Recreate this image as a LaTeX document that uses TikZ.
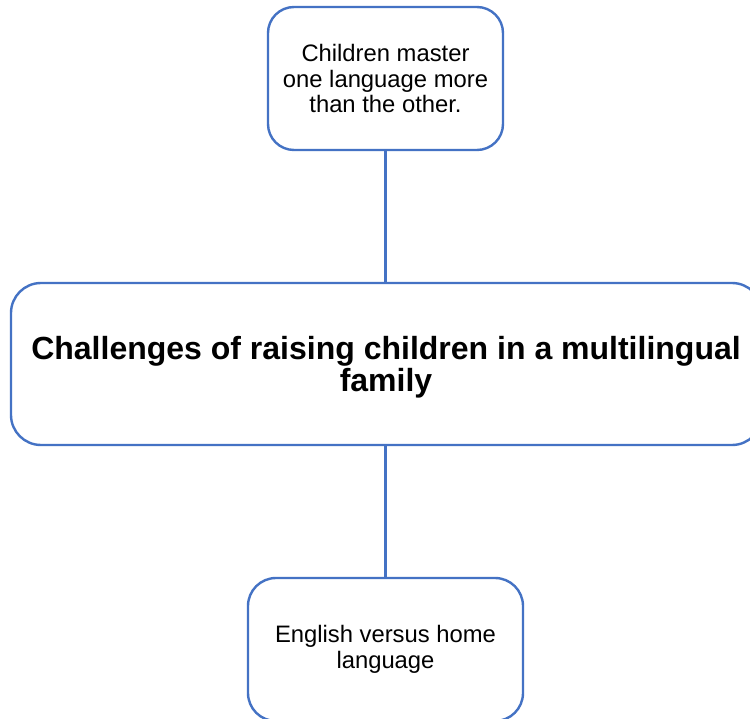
\documentclass[tikz,border=0pt]{standalone}
\usepackage{fontspec}
\setmainfont{Liberation Sans}
\definecolor{boxblue}{HTML}{4472C4}
\begin{document}
\begin{tikzpicture}[x=1pt,y=-1pt,
  box/.style={draw=boxblue, line width=2.4pt, fill=white, rounded corners=26pt,
    align=center, inner sep=0pt},
  small/.style={font=\fontsize{23.8}{25.5}\selectfont},
  big/.style={font=\bfseries\fontsize{32}{32}\selectfont},
  link/.style={draw=boxblue, line width=2.4pt}]
  \useasboundingbox (0,0) rectangle (750,719);
  \clip (0,0) rectangle (750,719);
  \fill[white] (0,0) rectangle (750,719);

  % three boxes, stacked along one vertical axis
  \node[box, small, minimum width=235pt, minimum height=143pt] (top)
    at (385.5,78.5) {Children master\\one language more\\than the other.};
  \node[box, rounded corners=30pt, minimum width=751pt, minimum height=162pt] (main)
    at (386.5,364) {};
  \node[big, align=center, inner sep=0pt] (title)
    at (386,367.5) {Challenges of raising children in a multilingual\\family};
  \node[box, small, rounded corners=28pt, minimum width=275pt, minimum height=143pt] (bottom)
    at (385.5,649.5) {English versus home\\language};

  % connectors
  \draw[link] (top.south) -- (top.south |- main.north);
  \draw[link] (bottom.north |- main.south) -- (bottom.north);
\end{tikzpicture}
\end{document}
